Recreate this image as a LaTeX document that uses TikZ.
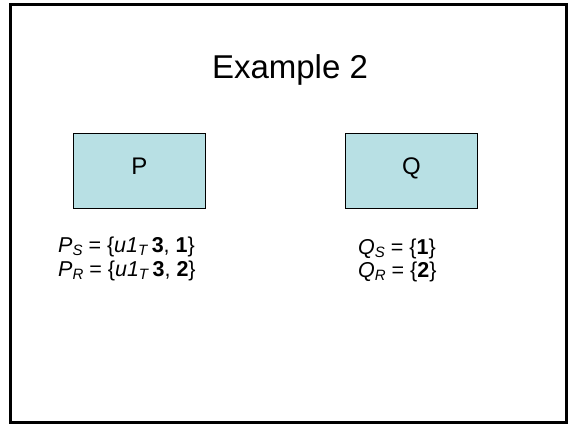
\documentclass[tikz,border=0pt]{standalone}
\usepackage{fontspec}
\setmainfont{Liberation Sans}
\definecolor{boxcyan}{RGB}{184,224,228}
\newcommand{\mysub}[1]{\raisebox{-0.32ex}{\fontsize{15}{15}\selectfont\textit{#1}}}
\begin{document}
\begin{tikzpicture}[x=1pt,y=-1pt,
  procbox/.style={draw=black, line width=0.9pt, fill=boxcyan, minimum width=132pt, minimum height=75pt, inner sep=0pt, text height=0.72em, text depth=0pt, font=\fontsize{24}{28}\selectfont},
  setline/.style={anchor=base west, inner sep=0pt, font=\fontsize{21.5}{25}\selectfont},
  titletext/.style={inner sep=0pt, font=\fontsize{33}{38}\selectfont}]
\useasboundingbox (0,0) rectangle (569,424);
\draw[line width=3pt] (10,4.5) rectangle (566.5,422);
\node[titletext] (title) at (290,70) {Example 2};
\node[procbox] (P) at (139.5,170.5) {P};
\node[procbox] (Q) at (411.5,170.5) {Q};
\node[setline] (ps) at (58,252) {\textit{P}\mysub{S} = \{\textit{u1}\mysub{T}\,\textbf{3}, \textbf{1}\}};
\node[setline] (pr) at (58,276) {\textit{P}\mysub{R} = \{\textit{u1}\mysub{T}\,\textbf{3}, \textbf{2}\}};
\node[setline] (qs) at (358,254) {\textit{Q}\mysub{S} = \{\textbf{1}\}};
\node[setline] (qr) at (358,277) {\textit{Q}\mysub{R} = \{\textbf{2}\}};
\end{tikzpicture}
\end{document}
